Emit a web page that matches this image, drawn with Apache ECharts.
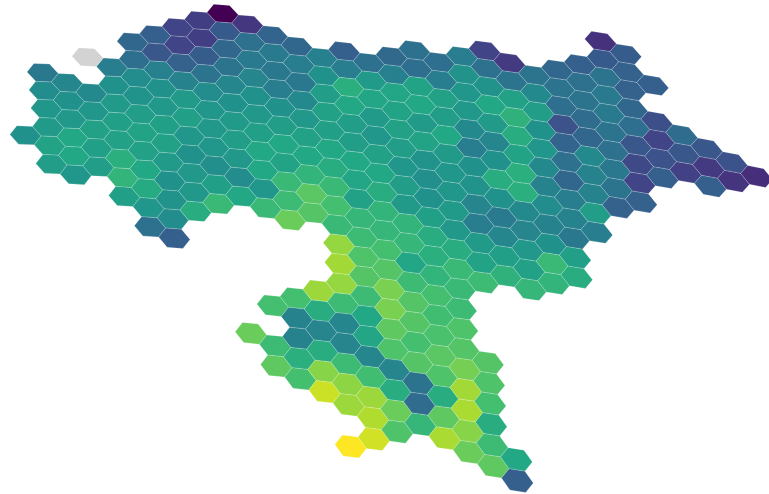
<!DOCTYPE html>
<html><head><meta charset="utf-8"><style>html,body{margin:0;background:#fff}#c{width:769px;height:494px;filter:blur(0.5px)}</style>
<script src="https://cdn.jsdelivr.net/npm/echarts@6/dist/echarts.min.js"></script></head><body><div id="c"></div><script>
// hex lattice: one list per column, starting at that column's first row, null = empty cell
const columnIds=[-9,-8,-7,-6,-5,-4,-3,-2,-1,0,1,2,3,4,5,6,7,8,9,10,11,12,13,14,15,16,17,18,19,20,21,22];
const firstRows=[3,0,1,2,1,0,0,0,0,0,1,2,3,4,4,5,5,5,6,6,6,7,8,8,8,7,8,10,13,14,15,16];
const columnValues=[
[50],
[40,48,52,54,58,55],
[46,50,53,60,60,52],
[47,52,57,56,55],
[42,50,54,56,57,63,65,56],
[33,36,48,51,55,58,57,60,61,52,37],
[30,27,43,50,53,56,57,54,50,51,48,30],
[20,20,31,44,54,56,52,50,53,53,62],
[18,18,29,38,48,52,53,52,49,56,67],
[0,28,33,38,46,50,54,55,53,48,60,null,null,null,null,null,null,77],
[16,37,41,45,50,53,56,60,60,52,67,null,null,null,null,70,null,68,75],
[32,41,40,42,50,55,60,58,67,68,77,null,null,null,70,44,44,63,70],
[33,42,40,47,53,57,60,65,74,73,null,null,null,85,62,45,62,82,92],
[43,50,55,57,56,60,62,67,70,67,84,86,84,68,46,45,68,83,85,null,100],
[30,42,63,60,55,55,60,59,57,66,68,72,73,68,60,59,46,69,85,88,93],
[37,54,59,54,52,57,60,62,65,66,70,73,80,80,75,72,45,62,77,72],
[34,43,59,58,57,55,52,55,54,65,66,59,68,73,73,70,73,38,35,66],
[37,36,58,60,54,58,51,49,50,56,62,63,65,70,69,71,74,72,62,75,87],
[36,42,57,55,60,54,52,52,54,53,62,67,67,68,72,73,79,86,87,82,77],
[42,51,52,53,47,42,50,51,45,42,54,58,68,null,null,null,73,72,70,62,68,75],
[20,37,51,60,54,46,50,62,50,41,46,56,64,null,null,null,null,null,null,null,null,60,30],
[17,38,57,64,62,58,63,63,47,45,53,57,66],
[38,47,55,50,52,47,44,48,44,50,67,65],
[33,38,36,25,32,37,33,42,44,40,56,62],
[30,37,38,35,33,47,44,44,55,42],
[14,28,38,41,41,38,37,40,38,31],
[29,31,31,33,36,27,22,20,31],
[30,null,24,20,25,30],
[35,27,19],
[27,17,30],
[25,15],
[13]
];
const noDataCells=[[-6,0]];
const viridis=['#440154','#482475','#414487','#355f8d','#2a788e','#21918c','#22a884','#44bf70','#7ad151','#bddf26','#fde725'];

// the map is slightly warped, so lattice -> map position is a small polynomial
const xTerms=[222.7251,22.5282,2.1439,0.002,0.0292,-0.0286];
const yTerms=[13.6267,-6.8544,17.5076,0.066,-0.051,0.0763];
function project(terms,c,r){
  return terms[0]+terms[1]*c+terms[2]*r+terms[3]*c*c+terms[4]*c*r+terms[5]*r*r;
}
function latticeToMap(c,r){
  return [project(xTerms,c,r),project(yTerms,c,r)];
}

const cells=[];
columnIds.forEach((c,i)=>{
  columnValues[i].forEach((v,k)=>{
    if(v!==null) cells.push([c,firstRows[i]+k,v]);
  });
});

const corners=[[2/3,1/3],[1/3,2/3],[-1/3,1/3],[-2/3,-1/3],[-1/3,-2/3],[1/3,-1/3]];
function hexItem(api,fill){
  const c=api.value(0),r=api.value(1);
  return {
    type:'polygon',
    shape:{points:corners.map(v=>api.coord(latticeToMap(c+v[0],r+v[1])))},
    style:{fill:fill,stroke:'rgba(255,255,255,0.22)',lineWidth:0.8}
  };
}

const chart=echarts.init(document.getElementById('c'));
chart.setOption({
  animation:false,
  grid:{left:0,right:0,top:0,bottom:0},
  xAxis:{type:'value',min:0,max:769,show:false},
  yAxis:{type:'value',min:0,max:494,inverse:true,show:false},
  visualMap:{show:false,min:0,max:100,dimension:2,seriesIndex:0,inRange:{color:viridis}},
  series:[
    {type:'custom',coordinateSystem:'cartesian2d',data:cells,renderItem:(p,api)=>hexItem(api,api.visual('color'))},
    {type:'custom',coordinateSystem:'cartesian2d',data:noDataCells,renderItem:(p,api)=>hexItem(api,'#d3d3d3')}
  ]
});
</script></body></html>
